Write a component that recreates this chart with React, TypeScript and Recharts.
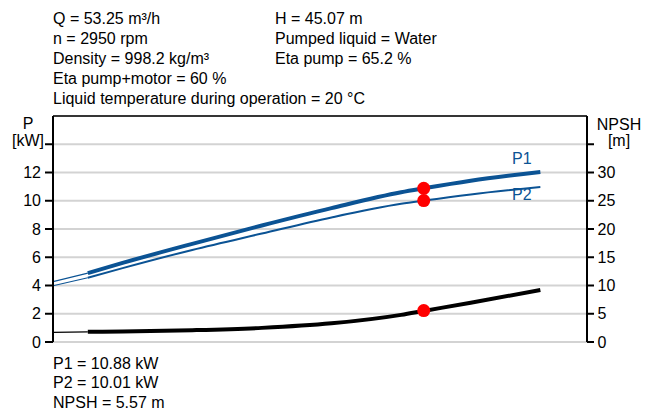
import React from "react";
import {
  LineChart,
  Line,
  XAxis,
  YAxis,
  CartesianGrid,
  ReferenceLine,
  ReferenceDot,
} from "recharts";

// flow Q [m3/h] along the x axis (not labelled in the picture)
const flow = [0, 5, 10, 20, 30, 40, 50, 53.25, 60, 70];
// first value of each curve belongs to the thin extension from Q=0 to Q=5
const p1Kw = [4.28, 4.88, 5.6, 6.95, 8.25, 9.48, 10.6, 10.88, 11.42, 12.03];
const p2Kw = [3.98, 4.55, 5.23, 6.52, 7.68, 8.82, 9.78, 10.01, 10.45, 10.98];
const npshM = [1.7, 1.8, 1.88, 2.1, 2.5, 3.3, 4.8, 5.5, 6.95, 9.2];

const dutyFlow = 53.25;
const dutyP1 = 10.88;
const dutyP2 = 10.01;
const dutyNpsh = 5.57;

const flowTicks = [0, 10, 20, 30, 40, 50, 60, 70];
const powerTicks = [0, 2, 4, 6, 8, 10, 12, 14];
const npshTicks = [0, 5, 10, 15, 20, 25, 30, 35];

const headerLeft = [
  "Q = 53.25 m³/h",
  "n = 2950 rpm",
  "Density = 998.2 kg/m³",
  "Eta pump+motor = 60 %",
  "Liquid temperature during operation = 20 °C",
];
const headerRight = ["H = 45.07 m", "Pumped liquid = Water", "Eta pump = 65.2 %"];
const footer = ["P1 = 10.88 kW", "P2 = 10.01 kW", "NPSH = 5.57 m"];

const BLUE = "#0b5394";
const FONT = "'Liberation Sans', Arial, sans-serif";

const data = flow.map((q, i) => ({
  q,
  p1Ext: i <= 1 ? p1Kw[i] : null,
  p1: i >= 1 ? p1Kw[i] : null,
  p2Ext: i <= 1 ? p2Kw[i] : null,
  p2: i >= 1 ? p2Kw[i] : null,
  npshExt: i <= 1 ? npshM[i] : null,
  npsh: i >= 1 ? npshM[i] : null,
}));

const textStyle: React.CSSProperties = {
  position: "absolute",
  fontFamily: FONT,
  fontSize: 16,
  color: "#000",
  whiteSpace: "nowrap",
};

export default function App() {
  return (
    <div
      style={{
        position: "absolute",
        left: 0,
        top: 0,
        width: 652,
        height: 412,
        background: "#fff",
      }}
    >
      <div style={{ ...textStyle, left: 53, top: 8.5, lineHeight: "20px" }}>
        {headerLeft.map((t) => (
          <div key={t}>{t}</div>
        ))}
      </div>
      <div style={{ ...textStyle, left: 275, top: 8.5, lineHeight: "20px" }}>
        {headerRight.map((t) => (
          <div key={t}>{t}</div>
        ))}
      </div>

      <LineChart
        width={652}
        height={412}
        data={data}
        margin={{ top: 116, right: 25, left: 13, bottom: 70 }}
      >
        <CartesianGrid yAxisId="left" stroke="#d3d3d3" strokeWidth={2} />
        <XAxis
          dataKey="q"
          type="number"
          domain={[0, 76.7]}
          ticks={flowTicks}
          allowDataOverflow
          tick={false}
          tickLine={false}
          height={0}
          axisLine={{ stroke: "#000", strokeWidth: 2 }}
        />
        <YAxis
          yAxisId="left"
          domain={[0, 16]}
          ticks={powerTicks}
          width={40}
          tickSize={8}
          tickMargin={4}
          tickFormatter={(v) => (v === 14 ? "" : String(v))}
          tick={{ fill: "#000", fontSize: 16, fontFamily: FONT }}
          tickLine={{ stroke: "#000", strokeWidth: 2 }}
          axisLine={{ stroke: "#000", strokeWidth: 2 }}
        />
        <YAxis
          yAxisId="right"
          orientation="right"
          domain={[0, 40]}
          ticks={npshTicks}
          width={40}
          tickSize={7}
          tickMargin={3.5}
          tickFormatter={(v) => (v === 35 ? "" : String(v))}
          tick={{ fill: "#000", fontSize: 16, fontFamily: FONT }}
          tickLine={{ stroke: "#000", strokeWidth: 2 }}
          axisLine={{ stroke: "#000", strokeWidth: 2 }}
        />
        <ReferenceLine yAxisId="left" y={16} stroke="#000" strokeWidth={1.5} />

        <Line yAxisId="left" type="monotone" dataKey="p1Ext" stroke={BLUE} strokeWidth={1.3} dot={false} activeDot={false} isAnimationActive={false} />
        <Line yAxisId="left" type="monotone" dataKey="p1" stroke={BLUE} strokeWidth={4} dot={false} activeDot={false} isAnimationActive={false} />
        <Line yAxisId="left" type="monotone" dataKey="p2Ext" stroke={BLUE} strokeWidth={1.2} dot={false} activeDot={false} isAnimationActive={false} />
        <Line yAxisId="left" type="monotone" dataKey="p2" stroke={BLUE} strokeWidth={2} dot={false} activeDot={false} isAnimationActive={false} />
        <Line yAxisId="right" type="monotone" dataKey="npshExt" stroke="#000" strokeWidth={1.2} dot={false} activeDot={false} isAnimationActive={false} />
        <Line yAxisId="right" type="monotone" dataKey="npsh" stroke="#000" strokeWidth={4} dot={false} activeDot={false} isAnimationActive={false} />

        <ReferenceDot yAxisId="left" x={dutyFlow} y={dutyP1} r={6.5} fill="#ff0000" stroke="none" />
        <ReferenceDot yAxisId="left" x={dutyFlow} y={dutyP2} r={6.5} fill="#ff0000" stroke="none" />
        <ReferenceDot yAxisId="right" x={dutyFlow} y={dutyNpsh} r={6.5} fill="#ff0000" stroke="none" />
      </LineChart>

      <div style={{ ...textStyle, left: 512, top: 149.2, color: BLUE, lineHeight: "20px" }}>P1</div>
      <div style={{ ...textStyle, left: 512, top: 184.7, color: BLUE, lineHeight: "20px" }}>P2</div>

      <div style={{ ...textStyle, left: 8, width: 40, textAlign: "center", top: 115.2, lineHeight: "17px" }}>
        <div>P</div>
        <div>[kW]</div>
      </div>
      <div style={{ ...textStyle, left: 592, width: 54, textAlign: "center", top: 116.7, lineHeight: "16px" }}>
        <div>NPSH</div>
        <div>[m]</div>
      </div>

      <div style={{ ...textStyle, left: 53, top: 353.8, lineHeight: "19.4px" }}>
        {footer.map((t) => (
          <div key={t}>{t}</div>
        ))}
      </div>
    </div>
  );
}
